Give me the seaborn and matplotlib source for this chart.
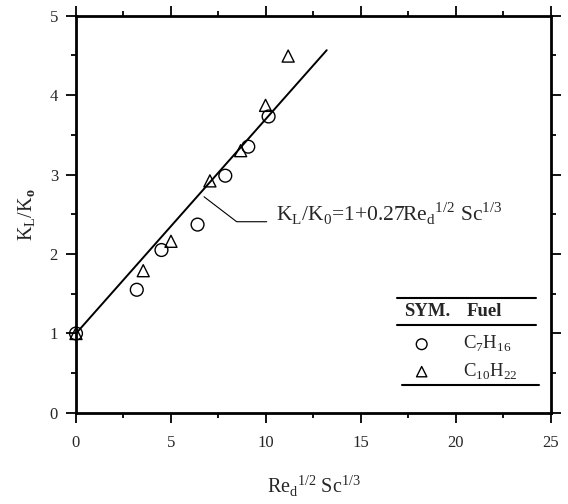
import numpy as np
import pandas as pd
import matplotlib
matplotlib.use("Agg")
import matplotlib.pyplot as plt
import seaborn as sns

# Data
c7_x = [0.0, 3.2, 4.5, 6.4, 7.86, 9.07, 10.14]
c7_y = [1.0, 1.55, 2.05, 2.37, 2.985, 3.35, 3.73]
c10_x = [0.0, 3.54, 5.0, 7.05, 8.67, 9.98, 11.17]
c10_y = [1.0, 1.79, 2.16, 2.92, 3.30, 3.87, 4.49]
fit_x = [0.0, 13.2]
fit_y = [1.0 + 0.27 * v for v in fit_x]

sns.set_theme(style="ticks")
plt.rcParams['font.family'] = ['Liberation Serif', 'DejaVu Serif']
plt.rcParams['mathtext.fontset'] = 'custom'
plt.rcParams['mathtext.rm'] = 'Liberation Serif'
plt.rcParams['mathtext.bf'] = 'Liberation Serif:bold'

fig = plt.figure(figsize=(5.68, 5.04), dpi=100)
ax = fig.add_axes([0.1338, 0.1806, 0.836, 0.7886])

df7 = pd.DataFrame({"x": c7_x, "y": c7_y})
df10 = pd.DataFrame({"x": c10_x, "y": c10_y})
dff = pd.DataFrame({"x": fit_x, "y": fit_y})

sns.lineplot(data=dff, x="x", y="y", ax=ax, color="black", linewidth=1.4)
sns.scatterplot(data=df7, x="x", y="y", ax=ax, marker="o", s=85,
                facecolor="none", edgecolor="black", linewidth=1.0, zorder=3,
                clip_on=False)
sns.scatterplot(data=df10, x="x", y="y", ax=ax, marker="^", s=75,
                facecolor="none", edgecolor="black", linewidth=1.0, zorder=3,
                clip_on=False)

ax.set_xlim(0, 25)
ax.set_ylim(0, 5)
ax.set_xticks([0, 5, 10, 15, 20, 25])
ax.set_yticks([0, 1, 2, 3, 4, 5])
ax.set_xticks(np.arange(0, 25.1, 2.5), minor=True)
ax.set_yticks(np.arange(0, 5.01, 0.5), minor=True)
ax.tick_params(which='both', direction='out', top=True, right=True,
               labeltop=False, labelright=False, color='black', width=1.3)
ax.tick_params(which='major', length=7, labelsize=12)
ax.tick_params(axis='x', which='major', pad=9)
ax.tick_params(axis='y', which='major', pad=6)
ax.tick_params(which='minor', length=3.5)
for s in ax.spines.values():
    s.set_linewidth(2.0)
    s.set_color('black')

ax.set_xlabel(r'Re$_\mathregular{d}$$^\mathregular{1/2}$ Sc$^\mathregular{1/3}$',
              fontsize=14.5, labelpad=16)
ax.set_ylabel(r'K$_\mathregular{L}$/K$_\mathbf{o}$', fontsize=14.5, labelpad=8)

# Annotation with leader line
ax.plot([6.74, 8.46, 10.04], [2.72, 2.406, 2.406], color='black', linewidth=0.8)
ax.text(10.55, 2.50,
        r'K$_\mathregular{L}$/K$_\mathregular{0}$=1+0.27Re$_\mathregular{d}$$^\mathregular{1/2}$ Sc$^\mathregular{1/3}$',
        fontsize=15.5, va='center', ha='left')

# Legend table
T = ax.transAxes
ax.plot([0.676, 0.968], [0.2886, 0.2886], color='black', lw=1.5, transform=T, clip_on=False)
ax.plot([0.676, 0.968], [0.221, 0.221], color='black', lw=1.5, transform=T, clip_on=False)
ax.plot([0.686, 0.975], [0.0704, 0.0704], color='black', lw=1.5, transform=T, clip_on=False)
ax.text(0.69, 0.255, 'SYM.', fontsize=13.5, fontweight='bold', transform=T, va='center', ha='left')
ax.text(0.822, 0.255, 'Fuel', fontsize=13.5, fontweight='bold', transform=T, va='center', ha='left')
ax.scatter([0.728], [0.173], marker='o', s=60, facecolor='none', edgecolor='black',
           linewidth=1.0, transform=T, clip_on=False)
ax.scatter([0.728], [0.104], marker='^', s=55, facecolor='none', edgecolor='black',
           linewidth=1.0, transform=T, clip_on=False)
ax.text(0.815, 0.173, r'C$_\mathregular{7}$H$_\mathregular{16}$', fontsize=13.5,
        transform=T, va='center', ha='left')
ax.text(0.815, 0.104, r'C$_\mathregular{10}$H$_\mathregular{22}$', fontsize=13.5,
        transform=T, va='center', ha='left')

fig.savefig("out.png", dpi=100)
